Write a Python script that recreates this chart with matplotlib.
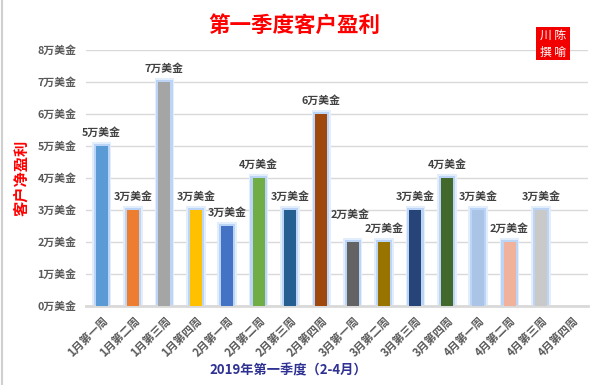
import matplotlib.pyplot as plt
import numpy as np
from matplotlib.patches import Rectangle
from matplotlib.lines import Line2D

plt.rcParams['font.family'] = ['Noto Sans CJK SC', 'DejaVu Sans']

# 数据
semanas = ['1月第一周', '1月第二周', '1月第三周', '1月第四周',
           '2月第一周', '2月第二周', '2月第三周', '2月第四周',
           '3月第一周', '3月第二周', '3月第三周', '3月第四周',
           '4月第一周', '4月第二周', '4月第三周', '4月第四周']
valores = [5, 3, 7, 3, 2.5, 4, 3, 6, 2, 2, 3, 4, 3, 2, 3, 0]
rotulos = ['5万美金', '3万美金', '7万美金', '3万美金', '3万美金', '4万美金', '3万美金', '6万美金',
           '2万美金', '2万美金', '3万美金', '4万美金', '3万美金', '2万美金', '3万美金', '']
cores = ['#5B9BD5', '#ED7D31', '#A5A5A5', '#FFC000', '#4472C4', '#70AD47', '#255E91', '#9E480E',
         '#636363', '#997300', '#264478', '#43682B', '#A9C4E6', '#F1B29B', '#C9C9C9', '#FFFFFF']
yticks = [0, 1, 2, 3, 4, 5, 6, 7, 8]
ytick_rotulos = ['%d万美金' % v for v in yticks]

fig = plt.figure(figsize=(6, 3.85), dpi=100)
ax = fig.add_axes([86/600, 1-306/385, (588-86)/600, (306-50)/385])

x = np.arange(len(semanas))
v = np.array(valores, dtype=float)
mask = v > 0

# brilho azul em volta das barras
ax.bar(x[mask], v[mask] + 0.12, width=0.62, color='#e3eefc', zorder=2)
ax.bar(x[mask], v[mask] + 0.07, width=0.52, color='#bcd5f7', zorder=2)
ax.bar(x, v, width=0.38, color=cores, zorder=3)

for i in range(len(x)):
    if rotulos[i] == '':
        continue
    dx, dy = 0, 6
    if i == 8:  # rotulo de 3月第一周 fica mais alto no original
        dx, dy = -2, 16
    ax.annotate(rotulos[i], (x[i], v[i]), xytext=(dx, dy), textcoords='offset points',
                ha='center', va='bottom', fontsize=7.8, fontweight='bold', color='#404040')

ax.set_xlim(-0.5, 15.5)
ax.set_ylim(0, 8)
ax.set_yticks(yticks)
ax.set_yticklabels(ytick_rotulos, fontsize=7.8, fontweight='bold', color='#595959')
ax.set_xticks(x)
ax.set_xticklabels(semanas, rotation=45, ha='right', rotation_mode='anchor',
                   fontsize=8, fontweight='bold', color='#595959')
ax.tick_params(axis='both', length=0)
ax.tick_params(axis='y', pad=7)
ax.tick_params(axis='x', pad=6)
ax.grid(axis='y', color='#d9d9d9', linewidth=1, zorder=0)
ax.set_axisbelow(True)
for s in ['top', 'right', 'left']:
    ax.spines[s].set_visible(False)
ax.spines['bottom'].set_color('#d9d9d9')
ax.spines['bottom'].set_linewidth(2)

ax.set_ylabel('客户净盈利', fontsize=11, fontweight='bold', color='red', labelpad=6)

fig.text(0.49, 1-25/385, '第一季度客户盈利', ha='center', va='center',
         fontsize=15.5, fontweight='bold', color='red')
fig.text(288/600, 1-370/385, '2019年第一季度（2-4月）', ha='center', va='center',
         fontsize=9.5, fontweight='bold', color='#2E3192')

# selo
fig.patches.append(Rectangle((536/600, 1-60/385), 34/600, 33/385, transform=fig.transFigure,
                             facecolor='#F20000', edgecolor='none', zorder=10))
fig.text(553/600, 1-35/385, '川 陈', ha='center', va='center', fontsize=8.5, color='white', zorder=11)
fig.text(553/600, 1-52/385, '撰 喻', ha='center', va='center', fontsize=8.5, color='white', zorder=11)

# borda esquerda
fig.lines.append(Line2D([0.003, 0.003], [0, 1], transform=fig.transFigure, color='#d0d0d0', linewidth=1.5))

plt.savefig('out.png', dpi=100)
